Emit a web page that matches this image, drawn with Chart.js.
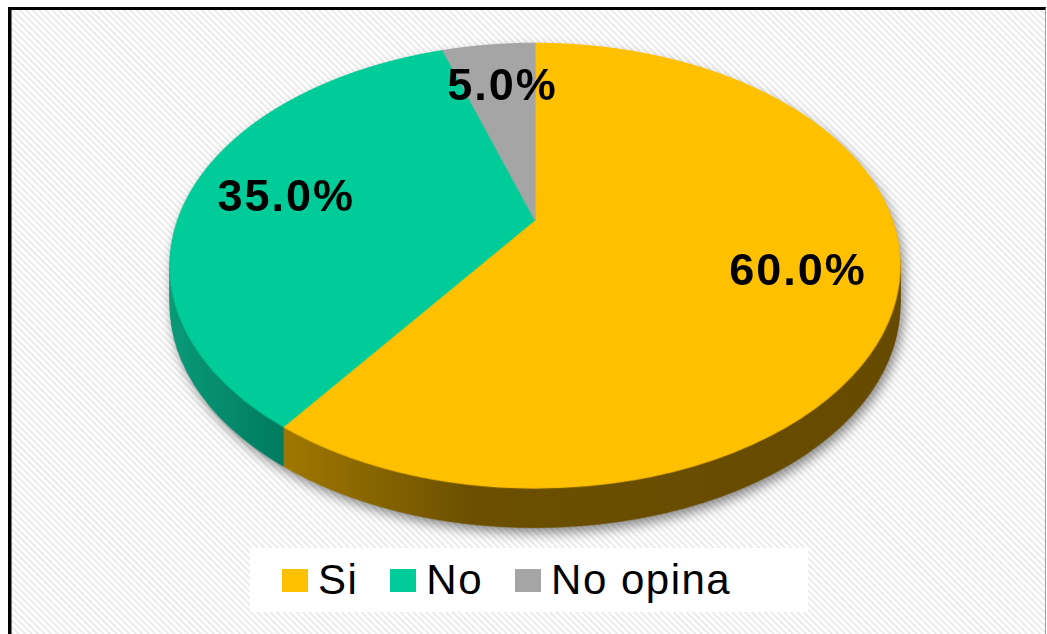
<!DOCTYPE html>
<html>
<head>
<meta charset="utf-8">
<script src="https://cdn.jsdelivr.net/npm/chart.js@4.4.1/dist/chart.umd.min.js"></script>
<style>
  html, body { margin: 0; padding: 0; background: #fff; width: 1047px; height: 634px; overflow: hidden;
    font-family: "Liberation Sans", Arial, sans-serif; }
  #frame { position: absolute; left: 8px; top: 7px; width: 1034px; height: 640px;
    border-top: 3px solid #000; border-left: 3px solid #000; border-right: 1px solid #a0a0a0;
    box-shadow: inset 1px 0 0 #777;
    background: repeating-linear-gradient(45deg, #fff 0, #fff 1.6px, #ebebeb 2.6px, #ebebeb 3.6px, #fff 4.6px); }
  #chart { position: absolute; left: 0; top: 0; }
  #legend { position: absolute; left: 250px; top: 548px; width: 526px; height: 64px; padding-left: 32px;
    background: #fff; display: flex; align-items: center; }
  .item { display: flex; align-items: center; margin-right: 32px; font-size: 42px; letter-spacing: 1.5px; color: #000; }
  .item i { display: inline-block; width: 26px; height: 23px; margin-right: 10px; }
</style>
</head>
<body>
<div id="frame"></div>
<canvas id="chart" width="1047" height="634"></canvas>
<div id="legend"></div>
<script>
const labels = ["Si", "No", "No opina"];
const values = [60, 35, 5];
const sliceColors = ["#FFC000", "#00CC99", "#A5A5A5"];
// side colours, as [x, colour] stops across the page
const sideColors = [
  [[283, "#a07800"], [470, "#6c5000"], [900, "#654a00"]],
  [[170, "#0a9a78"], [285, "#007a5d"]],
  [[440, "#6e6e6e"], [535, "#5a5a5a"]],
];

const W = 1047, H = 634;
// tilted face: where the centre lands, top / bottom of the face, widest half-width
const CX = 535, CY = 220, TOP = 43, BOT = 488, HALF_W = 365;
const DEPTH = 40;      // thickness of the side
const SS = 2;          // supersampling for the row warp
const SRC_R = 400, PAD = 4;
const LABEL_F = 0.73;  // labels sit at this fraction of the radius

// perspective: y = (A*v + CY) / (1 + C*v), x = CX + u*S / (1 + C*v)
const C = (TOP + BOT - 2 * CY) / (TOP - BOT);
const A = CY - TOP + TOP * C;
const S = HALF_W * Math.sqrt(1 - C * C);

const total = values.reduce((a, b) => a + b, 0);

function makeCanvas(w, h) {
  const c = document.createElement("canvas");
  c.width = w;
  c.height = h;
  return c;
}

const src = makeCanvas(2 * (SRC_R + PAD), 2 * (SRC_R + PAD));
const srcCtx = src.getContext("2d");
const big = makeCanvas(W * SS, H * SS);
const bigCtx = big.getContext("2d");

function mapArcs(arc) {
  const k = SRC_R / arc.outerRadius;
  srcCtx.setTransform(1, 0, 0, 1, 0, 0);
  srcCtx.clearRect(0, 0, src.width, src.height);
  srcCtx.setTransform(k, 0, 0, k, SRC_R + PAD - arc.x * k, SRC_R + PAD - arc.y * k);
}

// draws the flat disc in src onto bigCtx, one row at a time
function warp() {
  const N = src.width, half = N / 2;
  bigCtx.clearRect(0, 0, big.width, big.height);
  for (let yy = Math.floor(TOP * SS) - 2; yy <= Math.ceil(BOT * SS) + 2; yy++) {
    const y = (yy + 0.5) / SS;
    const v = (y - CY) / (A - C * y);
    if (v < -1.02 || v > 1.02) continue;
    const scale = S / (1 + C * v) / SRC_R;
    const sy = Math.min(N - 1, Math.max(0, half + v * SRC_R - 0.5));
    bigCtx.drawImage(src, 0, sy, N, 1, (CX - half * scale) * SS, yy, N * scale * SS, 1);
  }
}

function project(u, v) {
  const d = 1 + C * v;
  return [CX + (u * S) / d, (A * v + CY) / d];
}

const pie3d = {
  id: "pie3d",
  beforeDatasetsDraw(chart) {
    const ctx = chart.ctx;
    const arcs = chart.getDatasetMeta(0).data;

    // sides: each slice extruded downward, far slices first
    const side = makeCanvas(W, H), sideCtx = side.getContext("2d");
    const flat = makeCanvas(W, H), flatCtx = flat.getContext("2d");
    const stack = makeCanvas(W, H), stackCtx = stack.getContext("2d");
    for (let i = arcs.length - 1; i >= 0; i--) {
      const a = arcs[i];
      mapArcs(a);
      srcCtx.beginPath();
      srcCtx.moveTo(a.x, a.y);
      srcCtx.arc(a.x, a.y, a.outerRadius, a.startAngle, a.endAngle);
      srcCtx.closePath();
      srcCtx.fillStyle = "#000";
      srcCtx.fill();
      warp();
      flatCtx.clearRect(0, 0, W, H);
      flatCtx.drawImage(big, 0, 0, W, H);
      stackCtx.globalCompositeOperation = "source-over";
      stackCtx.clearRect(0, 0, W, H);
      for (let d = 1; d <= DEPTH; d++) stackCtx.drawImage(flat, 0, d);
      const stops = sideColors[i];
      const g = stackCtx.createLinearGradient(stops[0][0], 0, stops[stops.length - 1][0], 0);
      const x0 = stops[0][0], x1 = stops[stops.length - 1][0];
      stops.forEach(([x, col]) => g.addColorStop((x - x0) / (x1 - x0), col));
      stackCtx.globalCompositeOperation = "source-in";
      stackCtx.fillStyle = g;
      stackCtx.fillRect(0, 0, W, H);
      sideCtx.drawImage(stack, 0, 0);
    }
    ctx.save();
    ctx.shadowColor = "rgba(0,0,0,0.45)";
    ctx.shadowBlur = 12;
    ctx.shadowOffsetX = 3;
    ctx.shadowOffsetY = 5;
    ctx.drawImage(side, 0, 0);
    ctx.restore();

    // top face: the library's arcs, drawn flat then tilted
    mapArcs(arcs[0]);
    arcs.forEach((a) => a.draw(srcCtx));
    warp();
    ctx.save();
    ctx.imageSmoothingQuality = "high";
    ctx.drawImage(big, 0, 0, W, H);
    ctx.restore();
    return false;
  },
  afterDraw(chart) {
    const ctx = chart.ctx;
    const arcs = chart.getDatasetMeta(0).data;
    ctx.save();
    ctx.font = 'bold 45px "Liberation Sans", Arial, sans-serif';
    ctx.letterSpacing = "2px";
    ctx.fillStyle = "#000";
    ctx.textAlign = "center";
    ctx.textBaseline = "middle";
    arcs.forEach((a, i) => {
      const m = (a.startAngle + a.endAngle) / 2;
      const [x, y] = project(Math.cos(m) * LABEL_F, Math.sin(m) * LABEL_F);
      ctx.fillText(((values[i] / total) * 100).toFixed(1) + "%", x + 3, y + 2);
    });
    ctx.restore();
  },
};

new Chart(document.getElementById("chart"), {
  type: "pie",
  data: {
    labels,
    datasets: [{ data: values, backgroundColor: sliceColors, borderColor: sliceColors, borderWidth: 1 }],
  },
  options: {
    responsive: false,
    animation: false,
    devicePixelRatio: 1,
    plugins: { legend: { display: false }, tooltip: { enabled: false } },
  },
  plugins: [pie3d],
});

const legendEl = document.getElementById("legend");
labels.forEach((l, i) => {
  const item = document.createElement("span");
  item.className = "item";
  item.innerHTML = `<i style="background:${sliceColors[i]}"></i>${l}`;
  legendEl.appendChild(item);
});
</script>
</body>
</html>
